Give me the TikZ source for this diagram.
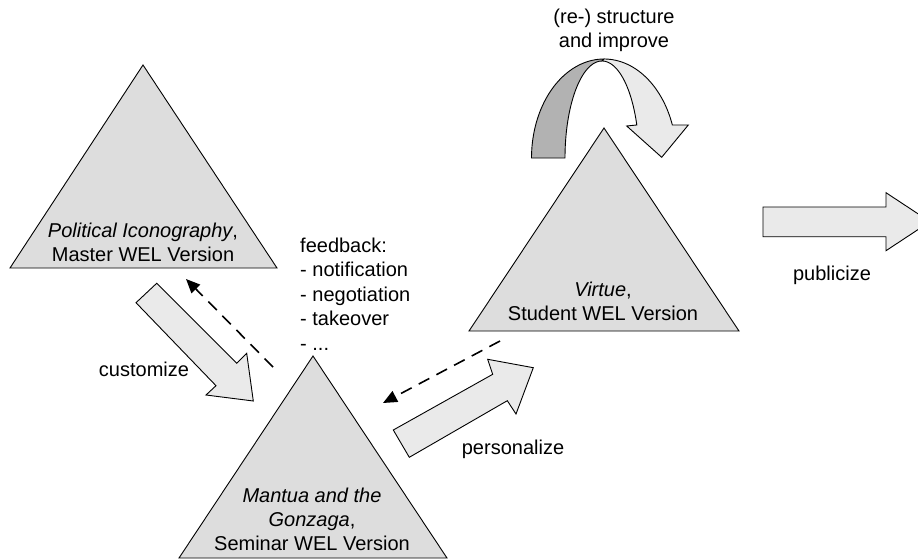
\documentclass[tikz,border=0pt]{standalone}
\usepackage{fontspec}
\setmainfont{Liberation Sans}
\usetikzlibrary{arrows.meta}
\definecolor{trifill}{RGB}{221,221,221}
\definecolor{arrowfill}{RGB}{234,234,234}
\definecolor{backfill}{RGB}{178,178,178}
\begin{document}
\begin{tikzpicture}[x=1pt,y=-1pt,
  layer/.style={draw=black, line width=0.9pt, fill=trifill, line join=miter},
  block/.style={draw=black, line width=0.9pt, fill=arrowfill, line join=miter},
  txt/.style={font=\fontsize{20}{24}\selectfont, inner sep=0pt, align=center},
  feedback/.style={draw=black, line width=1.6pt, dash pattern=on 12pt off 8pt,
    -{Triangle[length=14pt,width=12pt]}}]
\useasboundingbox (0,0) rectangle (918,559);
\clip (0,0) rectangle (918,559);

% --- the three course versions ---
\draw[layer] (143,65) -- (10,268) -- (277,268) -- cycle;
\draw[layer] (604,128) -- (469,331) -- (739,331) -- cycle;
\draw[layer] (313,356) -- (179,558) -- (447,558) -- cycle;

\node[txt] (master) at (143,242) {\textit{Political Iconography},\\Master WEL Version};
\node[txt] (student) at (603,301.5) {\textit{Virtue},\\Student WEL Version};
\node[txt] (seminar) at (312,519) {\textit{Mantua and the}\\\textit{Gonzaga},\\Seminar WEL Version};

% --- customize: master -> seminar ---
\draw[block] (156.7,283.3) -- (236.7,363.3) -- (246.7,353.3) -- (253.3,401)
  -- (206,395) -- (216,385.7) -- (136,302.7) -- cycle;
\node[txt] (customize) at (144,369) {customize};

% --- personalize: seminar -> student ---
\draw[block] (393.3,430) -- (492.7,374.3) -- (487.7,359.3) -- (533.3,367.7)
  -- (516,414) -- (507.3,400.7) -- (409.3,457.3) -- cycle;
\node[txt] (personalize) at (513,449) {personalize};

% --- publicize: student -> outside ---
\draw[block] (763,207) -- (886,207) -- (886,192.7) -- (930,221.7)
  -- (886,250.7) -- (886,236.7) -- (763,236.7) -- cycle;
\node[txt] (publicize) at (832,275) {publicize};

% --- (re-) structure loop over the student version ---
\draw[draw=black, line width=0.9pt, fill=backfill]
  plot[domain=180:270, samples=40] ({604+72.5*cos(\x)},{158+99*sin(\x)})
  -- plot[domain=270:180, samples=40] ({602+37*cos(\x)},{158+97*sin(\x)}) -- cycle;
\draw[draw=black, line width=0.9pt, fill=arrowfill, line join=miter]
  plot[domain=270:340.5, samples=40] ({604+72.5*cos(\x)},{158+99*sin(\x)})
  -- (688.3,125) -- (661.7,157.3) -- (626.7,126)
  -- plot[domain=340.1:270, samples=40] ({602+37*cos(\x)},{158+97*sin(\x)}) -- cycle;
\node[txt] (restructure) at (614,30.5) {(re-) structure\\and improve};

% --- feedback from the seminar version ---
\coordinate (fbA) at (273,367);
\coordinate (fbAend) at (186,279);
\coordinate (fbB) at (500,341);
\coordinate (fbBend) at (383,403);
\draw[feedback] (fbA) -- (fbAend);
\draw[feedback] (fbB) -- (fbBend);
\node[font=\fontsize{20}{24.5}\selectfont, inner sep=0pt, align=left, anchor=west]
  (feedback) at (300,294) {feedback:\\- notification\\- negotiation\\- takeover\\- ...};
\end{tikzpicture}
\end{document}
